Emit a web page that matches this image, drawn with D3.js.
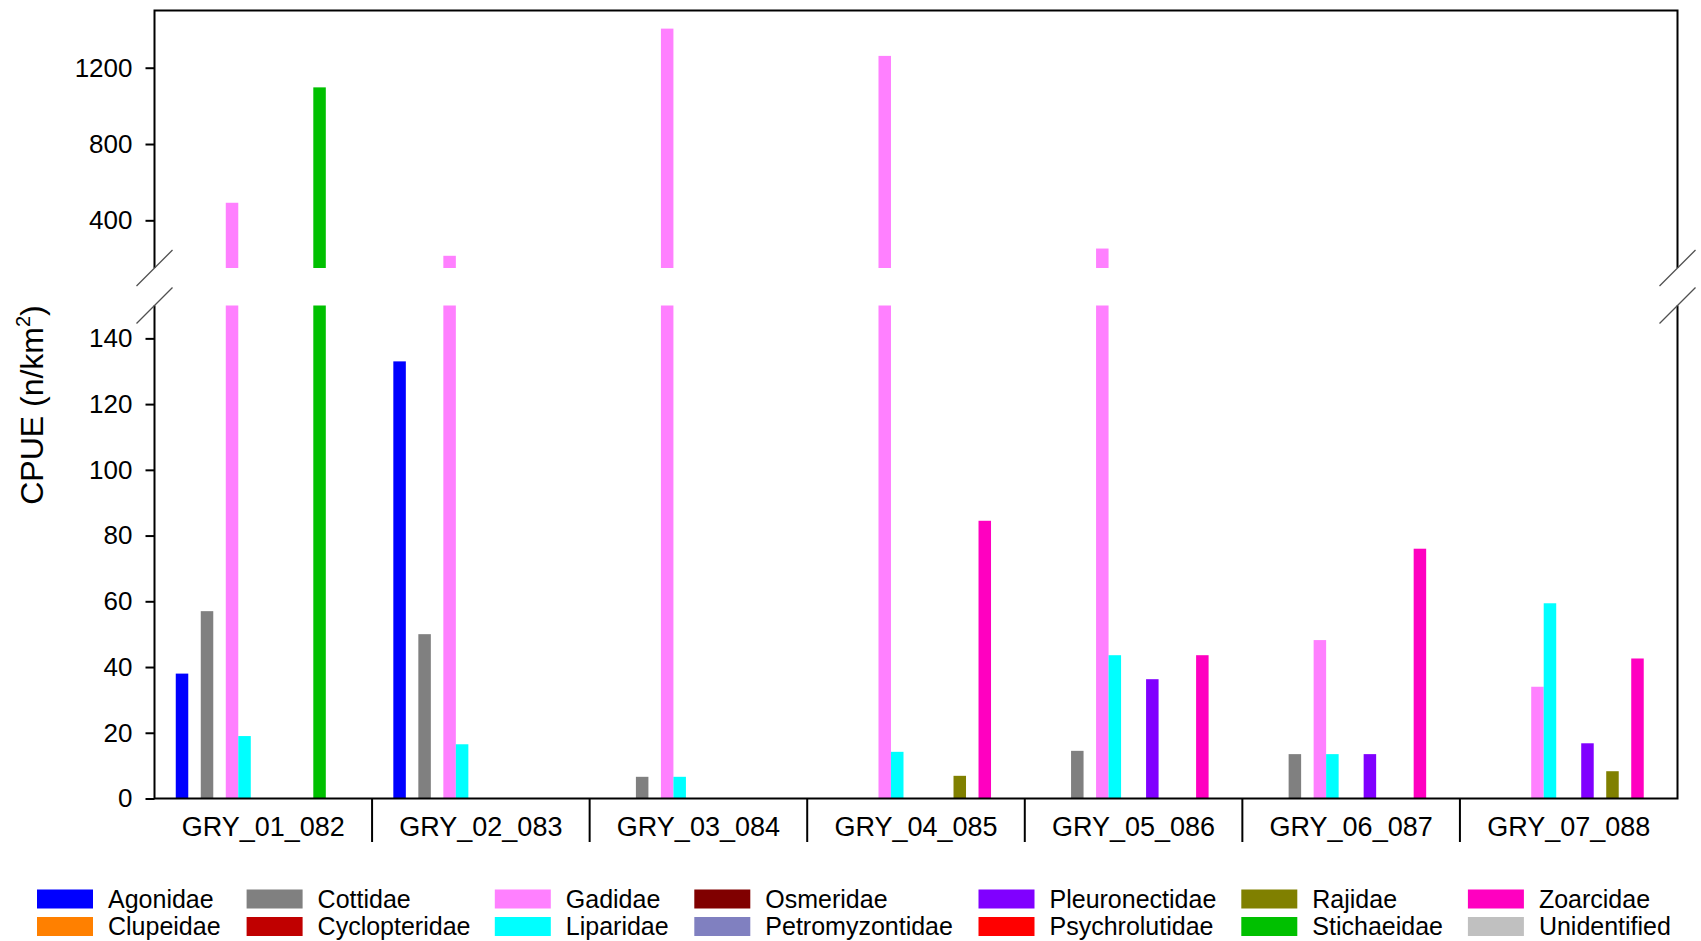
<!DOCTYPE html>
<html>
<head>
<meta charset="utf-8">
<script src="https://cdn.jsdelivr.net/npm/d3@7"></script>
<style>
  html, body { margin: 0; padding: 0; background: #fff; }
  svg { display: block; }
  text { font-family: "Liberation Sans", Arial, sans-serif; fill: #000; }
</style>
</head>
<body>
<svg id="chart" width="1701" height="941"></svg>
<script>
// ---------------- data ----------------
const stations = ["GRY_01_082", "GRY_02_083", "GRY_03_084", "GRY_04_085", "GRY_05_086", "GRY_06_087", "GRY_07_088"];

const families = ["Agonidae", "Clupeidae", "Cottidae", "Cyclopteridae", "Gadidae", "Liparidae", "Osmeridae",
  "Petromyzontidae", "Pleuronectidae", "Psychrolutidae", "Rajidae", "Stichaeidae", "Zoarcidae", "Unidentified"];

const familyColors = ["#0000FF", "#FF8000", "#808080", "#C00000", "#FF80FF", "#00FFFF", "#800000",
  "#8080C0", "#8000FF", "#FF0000", "#808000", "#00C000", "#FF00C0", "#C0C0C0"];

const agonidae        = [38, 133, 0, 0, 0, 0, 0];
const clupeidae       = [0, 0, 0, 0, 0, 0, 0];
const cottidae        = [57, 50, 6.6, 0, 14.5, 13.5, 0];
const cyclopteridae   = [0, 0, 0, 0, 0, 0, 0];
const gadidae         = [492, 214, 1405, 1262, 252, 48.2, 34];
const liparidae       = [19, 16.5, 6.6, 14.2, 43.6, 13.5, 59.4];
const osmeridae       = [0, 0, 0, 0, 0, 0, 0];
const petromyzontidae = [0, 0, 0, 0, 0, 0, 0];
const pleuronectidae  = [0, 0, 0, 0, 36.3, 13.5, 16.8];
const psychrolutidae  = [0, 0, 0, 0, 0, 0, 0];
const rajidae         = [0, 0, 0, 6.9, 0, 0, 8.3];
const stichaeidae     = [1097, 0, 0, 0, 0, 0, 0];
const zoarcidae       = [0, 0, 0, 84.5, 43.6, 76, 42.6];
const unidentified    = [0, 0, 0, 0, 0, 0, 0];

const seriesValues = [agonidae, clupeidae, cottidae, cyclopteridae, gadidae, liparidae, osmeridae,
  petromyzontidae, pleuronectidae, psychrolutidae, rajidae, stichaeidae, zoarcidae, unidentified];

const lowerTicks = [0, 20, 40, 60, 80, 100, 120, 140];
const upperTicks = [400, 800, 1200];
const breakValue = 150;
const upperMax = 1500;
const yTitle = "CPUE (n/km";

// ---------------- layout ----------------
const svg = d3.select("#chart");
const left = 154.5, right = 1677.5;
const upperTop = 10.5, upperBottom = 268;
const lowerTop = 305.5, lowerBottom = 798.5;
const fontFamily = '"Liberation Sans", Arial, sans-serif';

const x0 = d3.scaleBand().domain(stations).range([left, right]).padding(0);
const x1 = d3.scaleBand().domain(families).range([0, x0.bandwidth()]).paddingInner(0).paddingOuter(1.7);

const yLow = d3.scaleLinear().domain([0, breakValue]).range([lowerBottom, lowerTop]);
const yUp = d3.scaleLinear().domain([breakValue, upperMax]).range([upperBottom, upperTop]);

// rows of data
const rows = [];
families.forEach((f, fi) => {
  stations.forEach((s, si) => {
    const v = seriesValues[fi][si];
    if (v > 0) rows.push({ family: f, station: s, value: v, color: familyColors[fi] });
  });
});

// lower bars
svg.append("g").selectAll("rect").data(rows).join("rect")
  .attr("x", d => x0(d.station) + x1(d.family))
  .attr("width", x1.bandwidth())
  .attr("y", d => yLow(Math.min(d.value, breakValue)))
  .attr("height", d => yLow(0) - yLow(Math.min(d.value, breakValue)))
  .attr("fill", d => d.color);

// upper bars
svg.append("g").selectAll("rect").data(rows.filter(d => d.value > breakValue)).join("rect")
  .attr("x", d => x0(d.station) + x1(d.family))
  .attr("width", x1.bandwidth())
  .attr("y", d => yUp(d.value))
  .attr("height", d => yUp(breakValue) - yUp(d.value))
  .attr("fill", d => d.color);

// frame
const frame = svg.append("g").attr("stroke", "#000").attr("stroke-width", 2).attr("fill", "none");
frame.append("path").attr("d", `M${left},${upperBottom}V${upperTop}H${right}V${upperBottom}`);
frame.append("path").attr("d", `M${left},${lowerTop}V${lowerBottom}H${right}V${lowerTop}`);

// break marks
const brk = svg.append("g").attr("stroke", "#505050").attr("stroke-width", 1.3);
[left, right].forEach(xx => {
  [upperBottom, lowerTop].forEach(yy => {
    brk.append("line").attr("x1", xx - 18).attr("y1", yy + 18).attr("x2", xx + 18).attr("y2", yy - 18);
  });
});

// y axes
function styleAxis(g) {
  g.select(".domain").remove();
  g.selectAll(".tick line").attr("stroke", "#000").attr("stroke-width", 2);
  g.selectAll(".tick text").attr("font-size", 26).attr("font-family", fontFamily).attr("fill", "#000");
}
svg.append("g").attr("transform", `translate(${left},0)`)
  .call(d3.axisLeft(yLow).tickValues(lowerTicks).tickSize(9).tickPadding(13).tickFormat(d3.format("d")))
  .call(styleAxis);
svg.append("g").attr("transform", `translate(${left},0)`)
  .call(d3.axisLeft(yUp).tickValues(upperTicks).tickSize(9).tickPadding(13).tickFormat(d3.format("d")))
  .call(styleAxis);

// x axis: station labels and dividers
const xg = svg.append("g");
xg.selectAll("line").data(stations.slice(1)).join("line")
  .attr("x1", d => x0(d)).attr("x2", d => x0(d))
  .attr("y1", lowerBottom).attr("y2", 842)
  .attr("stroke", "#000").attr("stroke-width", 2);
xg.selectAll("text").data(stations).join("text")
  .attr("x", d => x0(d) + x0.bandwidth() / 2)
  .attr("y", 836)
  .attr("text-anchor", "middle")
  .attr("font-size", 27)
  .text(d => d);

// y title
const yt = svg.append("text")
  .attr("transform", "translate(43,405) rotate(-90)")
  .attr("text-anchor", "middle")
  .attr("font-size", 32);
yt.append("tspan").text(yTitle);
yt.append("tspan").attr("font-size", 20).attr("dy", -13).text("2");
yt.append("tspan").attr("dy", 13).text(")");

// legend
const colX = [37, 246.6, 494.8, 694.3, 978.5, 1241.3, 1467.9];
const rowY = [889.5, 917];
const lg = svg.append("g");
const items = families.map((f, i) => ({ f, c: familyColors[i], col: Math.floor(i / 2), row: i % 2 }));
const li = lg.selectAll("g").data(items).join("g")
  .attr("transform", d => `translate(${colX[d.col]},${rowY[d.row]})`);
li.append("rect").attr("width", 56).attr("height", 19).attr("fill", d => d.c);
li.append("text").attr("x", 71).attr("y", 18).attr("font-size", 25).text(d => d.f);
</script>
</body>
</html>
